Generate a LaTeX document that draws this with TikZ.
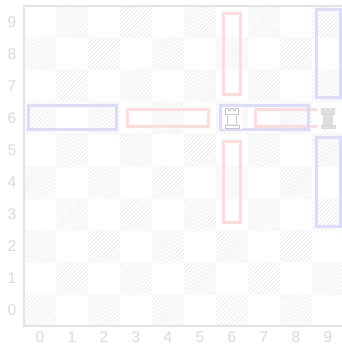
\documentclass[tikz,border=0pt]{standalone}
\usepackage{fontspec}
\setmainfont{Liberation Sans}
\usetikzlibrary{patterns.meta}

\begin{document}
\begin{tikzpicture}[
            x=32pt, y=32pt,
            hatch/.style={pattern={Lines[angle=45, distance=2.8pt, line width=0.6pt]}, pattern color=black!9},
            frameline/.style={draw=black!11, line width=1.5pt},
            blueline/.style={draw=blue!14, line width=3pt},
            redline/.style={draw=red!14, line width=3pt},
            axislabel/.style={text=black!15, font=\fontsize{15.5}{15.5}\selectfont, inner sep=0pt},
            rook/.pic={
                \path[pic actions] (-0.22,-0.31) rectangle (0.22,-0.22);
                \path[pic actions] (-0.15,-0.22) -- (-0.13,0.12) -- (0.13,0.12) -- (0.15,-0.22) -- cycle;
                \path[pic actions] (-0.2,0.12) -- (-0.2,0.31) -- (-0.12,0.31) -- (-0.12,0.25)
                    -- (-0.04,0.25) -- (-0.04,0.31) -- (0.04,0.31) -- (0.04,0.25) -- (0.12,0.25)
                    -- (0.12,0.31) -- (0.2,0.31) -- (0.2,0.12) -- cycle;
            }
        ]
            \useasboundingbox (-1.25,-1.125) rectangle (9.4375,9.6875);

            % board
            \foreach \i in {0,...,9}
                \foreach \j in {0,...,9} {
                    \pgfmathtruncatemacro\cellpar{mod(\i+\j,2)}
                    \ifnum\cellpar=0
                        \fill[hatch] (\i-0.5,\j-0.5) rectangle (\i+0.5,\j+0.5);
                    \fi
                }
            \draw[frameline] (9.5,9.5) -- (-0.5,9.5) -- (-0.5,-0.5) -- (9.5,-0.5);

            % axis labels
            \foreach \i in {0,...,9} {
                \node[axislabel] (xl\i) at (\i,-0.86) {\i};
                \node[axislabel] (yl\i) at (-0.875,\i) {\i};
            }

            % moves
            \draw[redline] (2.72,5.72) rectangle (5.28,6.28);
            \draw[redline] (6.72,5.72) rectangle (9.28,6.28);
            \draw[redline] (5.72,6.72) rectangle (6.28,9.28);
            \draw[redline] (5.72,2.72) rectangle (6.28,5.28);

            \draw[blueline] (-0.375,5.625) rectangle (2.375,6.375);
            \draw[blueline] (5.625,5.625) rectangle (8.375,6.375);
            \draw[blueline] (8.625,6.625) rectangle (9.375,9.375);
            \draw[blueline] (8.625,2.625) rectangle (9.375,5.375);

            % pieces
            \fill[white] (5.7,5.67) rectangle (6.3,6.33);
            \fill[white] (8.67,5.62) rectangle (9.4,6.38);
            \pic[fill=white, draw=black!22, line width=0.8pt] (wrook) at (6,6) {rook};
            \pic[fill=black!13, draw=black!15, line width=0.8pt] (brook) at (9,6) {rook};
        \end{tikzpicture}
\end{document}
